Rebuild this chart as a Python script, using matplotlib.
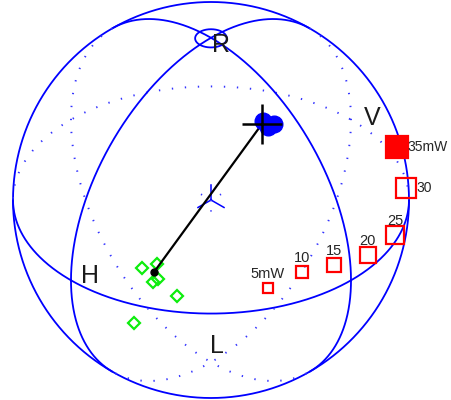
import matplotlib
matplotlib.use("Agg")
import matplotlib.pyplot as plt
import numpy as np

# Stokes vectors (S1, S2, S3) of the measured states
red_power = [5, 10, 15, 20, 25, 30, 35]
red_labels = ["5mW", "10", "15", "20", "25", "30", "35mW"]
red_s1 = [0.470, 0.290, 0.104, -0.132, -0.398, -0.620, -0.646]
red_s2 = [0.875, 0.942, 0.985, 0.988, 0.917, 0.771, 0.681]
red_s3 = [0.121, 0.168, 0.138, 0.085, 0.041, 0.147, 0.346]

green_s1 = [-0.117, -0.202, -0.127, -0.157, -0.179, 0.134]
green_s2 = [-0.612, -0.586, -0.539, -0.534, -0.424, -0.416]
green_s3 = [-0.782, -0.785, -0.833, -0.831, -0.888, -0.900]

blue_s1 = [0.161, 0.121, 0.159]
blue_s2 = [0.533, 0.571, 0.566]
blue_s3 = [0.831, 0.812, 0.809]

# eigen-axis drawn as a diameter
axis_start = [-0.164, -0.569, -0.805]
axis_end = [0.176, 0.540, 0.823]

# pole labels
pole_names = ["H", "V", "R", "L"]
pole_vecs = [[1, 0, 0], [-1, 0, 0], [0, 0, 1], [0, 0, -1]]
pole_offsets = [(14, 3), (15, 1), (7, -5), (4, 12)]

AZ = np.radians(45)
EL = np.radians(35)
RIGHT = np.array([-np.sin(AZ), np.cos(AZ), 0.0])
UP = np.array([-np.sin(EL) * np.cos(AZ), -np.sin(EL) * np.sin(AZ), np.cos(EL)])
VIEW = np.array([np.cos(EL) * np.cos(AZ), np.cos(EL) * np.sin(AZ), np.sin(EL)])

BLUE = (0, 0, 1)
DOT_BLUE = (0.2, 0.2, 1.0)


def project(pts):
    pts = np.asarray(pts, dtype=float)
    return RIGHT @ pts, UP @ pts, VIEW @ pts


def draw_curve(ax, pts, lw=1.3):
    u, v, d = project(pts)
    front = d >= 0
    ax.plot(np.where(front, u, np.nan), np.where(front, v, np.nan),
            color=BLUE, lw=lw, solid_capstyle="round")
    ax.plot(np.where(~front, u, np.nan), np.where(~front, v, np.nan),
            color=DOT_BLUE, lw=1.4, linestyle=(0, (0.7, 6)))


fig = plt.figure(figsize=(4.51, 4.0), dpi=100)
ax = fig.add_axes([0, 0, 1, 1])
ax.set_xlim(-211 / 198, 240 / 198)
ax.set_ylim(-200 / 198, 200 / 198)
ax.axis("off")

t = np.linspace(0, 2 * np.pi, 1441)
c, s = np.cos(t), np.sin(t)
zero = np.zeros_like(t)

# outline of the sphere
ax.plot(c, s, color=BLUE, lw=1.3)

# equator and the two meridians
draw_curve(ax, np.vstack([c, s, zero]))
draw_curve(ax, np.vstack([c, zero, s]))
draw_curve(ax, np.vstack([zero, c, s]))

# small ring around the R pole
lat = np.radians(85.4)
draw_curve(ax, np.vstack([np.cos(lat) * c, np.cos(lat) * s, np.full_like(t, np.sin(lat))]))

# little tripod at the origin
L = 0.093
for k in range(3):
    e = np.zeros(3)
    e[k] = L
    u, v, _ = project(np.vstack([np.zeros(3), e]).T)
    ax.plot(u, v, color=BLUE, lw=1.1)
    u, v, _ = project(np.vstack([np.zeros(3), -e]).T)
    ax.plot(u, v, color=DOT_BLUE, lw=1.3, linestyle=(0, (0.7, 5)))

# pole labels
for name, vec, off in zip(pole_names, pole_vecs, pole_offsets):
    u, v, _ = project(vec)
    ax.annotate(name, (u, v), xytext=off, textcoords="offset points",
                ha="center", va="center", fontsize=18,
                family="Liberation Sans", color="0.1")

# green states
u, v, _ = project([green_s1, green_s2, green_s3])
ax.plot(u, v, "D", ms=6.5, mfc="none", mec=(0.05, 0.93, 0.05), mew=1.6)

# eigen-axis
u, v, _ = project(np.array([axis_start, axis_end]).T)
ax.plot(u, v, color="black", lw=1.6)
ax.plot(u[0], v[0], "o", ms=5, color="black")

# blue states and the axis end
bu, bv, _ = project([blue_s1, blue_s2, blue_s3])
ax.plot(bu, bv, "o", ms=12, color=BLUE)
ax.plot(u[1], v[1], "+", ms=29, color="black", mew=1.8)

# red states versus pump power
u, v, _ = project([red_s1, red_s2, red_s3])
for i, (p, lab) in enumerate(zip(red_power, red_labels)):
    filled = p == max(red_power)
    ax.plot(u[i], v[i], "s", ms=5 + 0.3 * p,
            mfc="red" if filled else "none", mec="red", mew=1.6)
    if p < 30:
        ax.annotate(lab, (u[i], v[i]), xytext=(0, 10), textcoords="offset points",
                    ha="center", va="center", fontsize=10.5,
                    family="Liberation Sans", color="0.15")
    else:
        ax.annotate(lab, (u[i], v[i]), xytext=(7.5, 0), textcoords="offset points",
                    ha="left", va="center", fontsize=10,
                    family="Liberation Sans", color="0.15")

fig.savefig("out.png", dpi=100)
